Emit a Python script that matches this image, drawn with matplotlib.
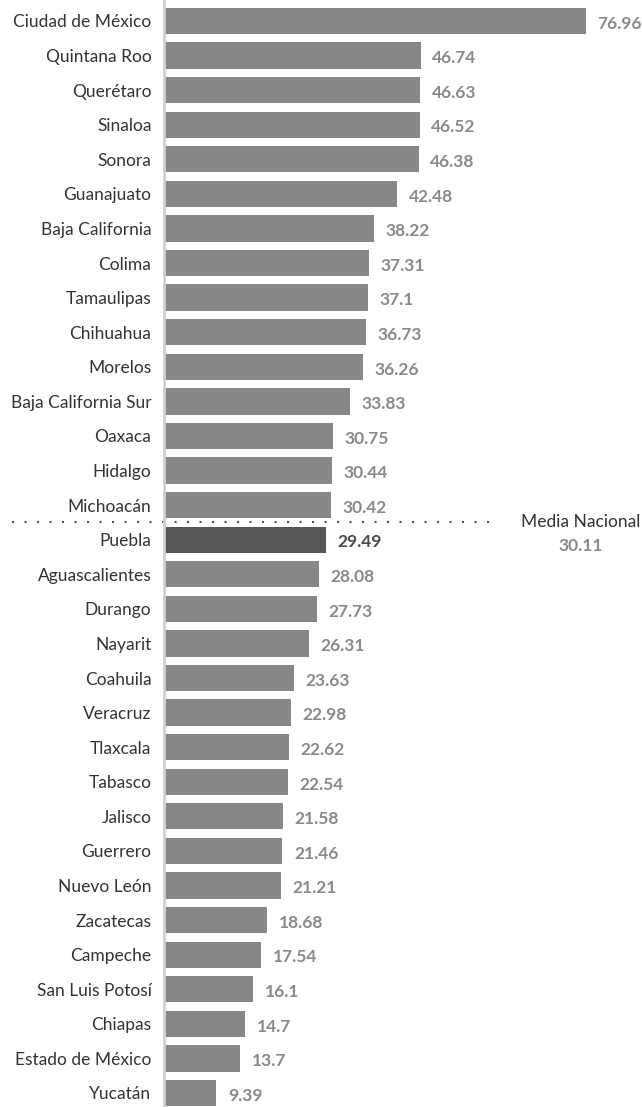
import numpy as np
import matplotlib.pyplot as plt
import matplotlib.transforms as mtransforms

estados = ['Ciudad de México', 'Quintana Roo', 'Querétaro', 'Sinaloa', 'Sonora',
           'Guanajuato', 'Baja California', 'Colima', 'Tamaulipas', 'Chihuahua',
           'Morelos', 'Baja California Sur', 'Oaxaca', 'Hidalgo', 'Michoacán',
           'Puebla', 'Aguascalientes', 'Durango', 'Nayarit', 'Coahuila',
           'Veracruz', 'Tlaxcala', 'Tabasco', 'Jalisco', 'Guerrero',
           'Nuevo León', 'Zacatecas', 'Campeche', 'San Luis Potosí', 'Chiapas',
           'Estado de México', 'Yucatán']
valores = [76.96, 46.74, 46.63, 46.52, 46.38, 42.48, 38.22, 37.31, 37.1, 36.73,
           36.26, 33.83, 30.75, 30.44, 30.42, 29.49, 28.08, 27.73, 26.31, 23.63,
           22.98, 22.62, 22.54, 21.58, 21.46, 21.21, 18.68, 17.54, 16.1, 14.7,
           13.7, 9.39]
etiquetas = ['76.96', '46.74', '46.63', '46.52', '46.38', '42.48', '38.22', '37.31',
             '37.1', '36.73', '36.26', '33.83', '30.75', '30.44', '30.42', '29.49',
             '28.08', '27.73', '26.31', '23.63', '22.98', '22.62', '22.54', '21.58',
             '21.46', '21.21', '18.68', '17.54', '16.1', '14.7', '13.7', '9.39']
media_nacional = 30.11
destacado = 'Puebla'

plt.rcParams['font.family'] = ['Lato', 'DejaVu Sans']

fig = plt.figure(figsize=(6.42, 11.07), dpi=100)
ax = fig.add_axes([164 / 642, 0, 1 - 164 / 642, 1])

y = np.arange(len(estados))
colores = ['#575757' if e == destacado else '#878787' for e in estados]
ax.barh(y, valores, height=0.76, color=colores, left=0.2)

for i, (v, t) in enumerate(zip(valores, etiquetas)):
    c = '#4a4a4a' if estados[i] == destacado else '#8a8a8a'
    ax.text(v + 2.3, i + 0.08, t, va='center', ha='left', fontsize=12.5,
            fontweight='bold', color=c)

ax.set_ylim(31.405, -0.607)
ax.set_xlim(0, 87.4)
ax.set_yticks(y)
ax.set_yticklabels(estados, fontsize=12.5, color='#333333')
ax.tick_params(axis='y', length=0, pad=9)
ax.set_xticks([])
for s in ['top', 'right', 'bottom']:
    ax.spines[s].set_visible(False)
ax.spines['left'].set_color('#d0d0d0')
ax.spines['left'].set_linewidth(2)

# linea de la media nacional (entre Michoacán y Puebla)
pos = estados.index(destacado) - 0.5
tr = mtransforms.blended_transform_factory(fig.transFigure, ax.transData)
ax.plot([12 / 642, 497 / 642], [pos, pos], transform=tr, clip_on=False,
        linestyle=(0, (1, 5)), color='#555555', linewidth=1.5)
ax.text(581 / 642, pos, 'Media Nacional', transform=tr, ha='center', va='center',
        fontsize=12.5, color='#333333')
ax.text(581 / 642, pos + 0.68, f'{media_nacional:.2f}', transform=tr, ha='center',
        va='center', fontsize=12.5, fontweight='bold', color='#8a8a8a')

fig.savefig('out.png', dpi=100)
